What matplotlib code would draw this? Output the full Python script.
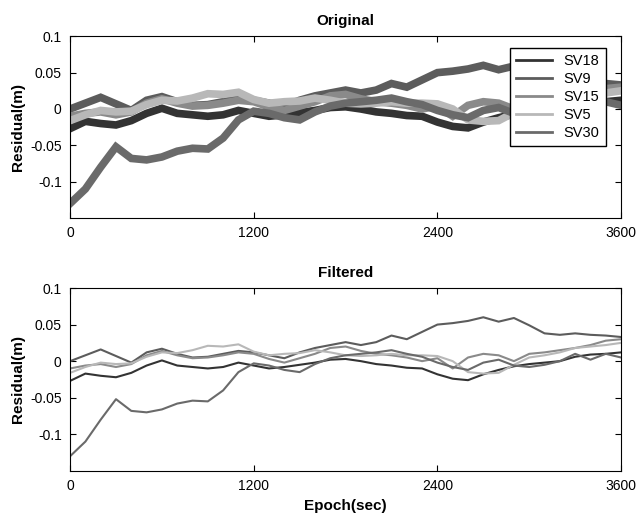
import numpy as np
import matplotlib
matplotlib.use("Agg")
import matplotlib.pyplot as plt

plt.rcParams['font.family'] = ['Liberation Sans', 'DejaVu Sans']

# epochs (sec), read every 100 s
epoch = np.arange(0, 3601, 100)

# residuals (m)
sv18 = [-0.027, -0.017, -0.020, -0.022, -0.016, -0.006, 0.001, -0.006, -0.008, -0.010,
        -0.008, -0.002, -0.006, -0.010, -0.008, -0.005, -0.002, 0.002, 0.003, 0.000,
        -0.004, -0.006, -0.009, -0.010, -0.018, -0.024, -0.026, -0.018, -0.012, -0.007,
        -0.004, -0.002, 0.000, 0.006, 0.009, 0.010, 0.012]
sv9 = [0.000, 0.008, 0.016, 0.007, -0.002, 0.012, 0.017, 0.010, 0.005, 0.006,
       0.010, 0.014, 0.012, 0.008, 0.004, 0.012, 0.018, 0.022, 0.026, 0.022,
       0.026, 0.035, 0.030, 0.040, 0.050, 0.052, 0.055, 0.060, 0.054, 0.059,
       0.049, 0.038, 0.036, 0.038, 0.036, 0.035, 0.033]
sv15 = [-0.010, -0.006, -0.004, -0.008, -0.004, 0.008, 0.014, 0.008, 0.004, 0.005,
        0.008, 0.012, 0.010, 0.003, -0.002, 0.004, 0.010, 0.018, 0.020, 0.014,
        0.010, 0.008, 0.005, 0.000, 0.004, -0.010, 0.005, 0.010, 0.008, 0.000,
        0.010, 0.012, 0.015, 0.018, 0.022, 0.028, 0.030]
sv5 = [-0.016, -0.008, -0.002, -0.004, -0.003, 0.006, 0.012, 0.011, 0.015, 0.021,
       0.020, 0.023, 0.013, 0.008, 0.010, 0.011, 0.015, 0.012, 0.008, 0.007,
       0.008, 0.010, 0.008, 0.008, 0.007, 0.000, -0.015, -0.017, -0.016, -0.005,
       0.005, 0.008, 0.012, 0.018, 0.020, 0.022, 0.025]
sv30 = [-0.130, -0.110, -0.080, -0.052, -0.068, -0.070, -0.066, -0.058, -0.054, -0.055,
        -0.040, -0.015, -0.003, -0.006, -0.012, -0.015, -0.004, 0.004, 0.008, 0.010,
        0.012, 0.015, 0.010, 0.006, -0.002, -0.008, -0.012, -0.002, 0.002, -0.006,
        -0.008, -0.005, 0.000, 0.010, 0.002, 0.010, 0.005]

names = ["SV18", "SV9", "SV15", "SV5", "SV30"]
series = [sv18, sv9, sv15, sv5, sv30]
colors = ["#333333", "#5c5c5c", "#8a8a8a", "#b8b8b8", "#6a6a6a"]

fig = plt.figure(figsize=(6.37, 5.18), dpi=100)
ax1 = fig.add_axes([0.110, 0.579, 0.865, 0.351])
ax2 = fig.add_axes([0.110, 0.091, 0.865, 0.353])

# Original (noisy, drawn as thick bands)
for name, s, c in zip(names, series, colors):
    ax1.plot(epoch, s, color=c, lw=5.5, solid_joinstyle="miter", label=name)
# Filtered
for name, s, c in zip(names, series, colors):
    ax2.plot(epoch, s, color=c, lw=1.5, label=name)

for ax, title in [(ax1, "Original"), (ax2, "Filtered")]:
    ax.set_xlim(0, 3600)
    ax.set_ylim(-0.15, 0.1)
    ax.set_xticks([0, 1200, 2400, 3600])
    ax.set_xticklabels(["0", "1200", "2400", "3600"])
    ax.set_yticks([-0.1, -0.05, 0, 0.05, 0.1])
    ax.set_yticklabels(["-0.1", "-0.05", "0", "0.05", "0.1"])
    ax.tick_params(direction="in", top=True, right=True, labelsize=10, length=4, pad=6)
    ax.set_title(title, fontweight="bold", fontsize=11, pad=8)
    ax.set_ylabel("Residual(m)", fontweight="bold", fontsize=11)

ax2.set_xlabel("Epoch(sec)", fontweight="bold", fontsize=11)

leg = ax1.legend(loc="upper right", fontsize=10.5, fancybox=False, framealpha=1,
                 edgecolor="black", handlelength=2.5, borderpad=0.4, labelspacing=0.28,
                 bbox_to_anchor=(0.985, 0.975))
for line in leg.get_lines():
    line.set_linewidth(2)

fig.savefig("out.png", dpi=100)
